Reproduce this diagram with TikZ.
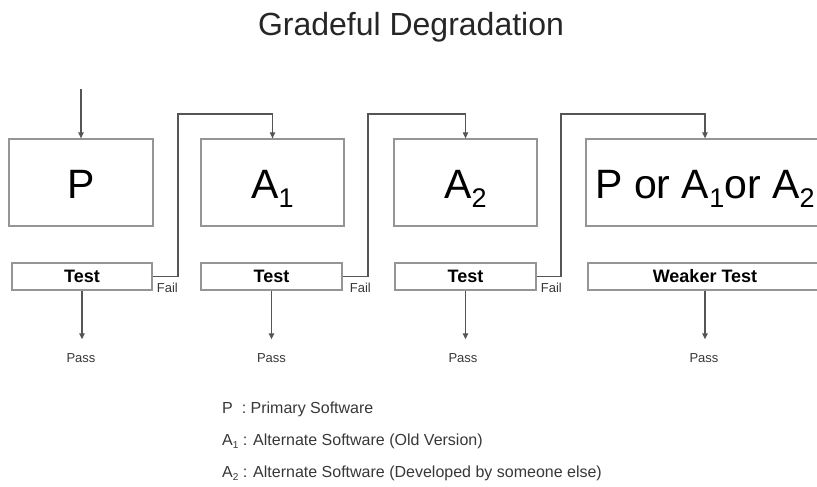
\documentclass[tikz,border=0pt]{standalone}
\usepackage{fontspec}
\setmainfont{Liberation Sans}
\usetikzlibrary{arrows.meta}
\definecolor{boxgray}{HTML}{959595}
\definecolor{linegray}{HTML}{555555}
\definecolor{txtgray}{HTML}{383838}
\newcommand\bigsub[1]{\raisebox{-9pt}{\fontsize{27}{27}\selectfont #1}}
\newcommand\tinysub[1]{\raisebox{-3pt}{\fontsize{10}{10}\selectfont #1}}
\begin{document}
\begin{tikzpicture}[x=1pt,y=-1pt,
  mainbox/.style={draw=boxgray,line width=1.3pt,minimum height=87pt,inner sep=0pt,
    text height=31pt,text depth=0pt,font=\fontsize{41}{41}\selectfont},
  testbox/.style={draw=boxgray,line width=1.3pt,minimum height=27pt,inner sep=0pt,
    text height=12pt,text depth=0pt,font=\bfseries\fontsize{18}{18}\selectfont},
  conn/.style={draw=linegray,line width=1.2pt,-{Triangle[length=6pt,width=5.5pt]}},
  small/.style={font=\fontsize{13}{13}\selectfont,text=txtgray,inner sep=0pt},
  legend/.style={font=\fontsize{16}{16}\selectfont,text=txtgray,anchor=base west,inner sep=0pt}]
\clip (0,0) rectangle (817,487);
\fill[white] (0,0) rectangle (817,487);
% title
\node[font=\fontsize{32}{32}\selectfont,text=black!85,anchor=base,inner sep=0pt] (title) at (411,36) {Gradeful Degradation};
% main boxes
\node[mainbox,minimum width=144pt] (P)  at (81,182.5)   {P};
\node[mainbox,minimum width=143pt] (A1) at (272.5,182.5) {A\bigsub{1}};
\node[mainbox,minimum width=143pt] (A2) at (465.5,182.5) {A\bigsub{2}};
\node[mainbox,minimum width=238pt] (PA) at (705,182.5)  {P or A\bigsub{1}or A\bigsub{2}};
% test boxes
\node[testbox,minimum width=140pt] (tP)  at (82,276.5)    {Test};
\node[testbox,minimum width=141pt] (tA1) at (271.5,276.5) {Test};
\node[testbox,minimum width=141pt] (tA2) at (465.5,276.5) {Test};
\node[testbox,minimum width=234pt] (tPA) at (705,276.5)   {Weaker Test};
% entry arrow
\coordinate (in) at (81,89);
\draw[conn] (in) -- (P.north);
% fail connectors
\coordinate (f1) at (178,114);
\coordinate (f2) at (368,114);
\coordinate (f3) at (561,114);
\draw[conn] (tP.east)  -| (f1) -| (A1.north);
\draw[conn] (tA1.east) -| (f2) -| (A2.north);
\draw[conn] (tA2.east) -| (f3) -| (PA.north);
% fail labels
\node[small,anchor=base west] (fail1) at ([xshift=4pt,yshift=-2pt]tP.south east)  {Fail};
\node[small,anchor=base west] (fail2) at ([xshift=7pt,yshift=-2pt]tA1.south east) {Fail};
\node[small,anchor=base west] (fail3) at ([xshift=4pt,yshift=-2pt]tA2.south east) {Fail};
% pass labels and arrows
\node[small] (pass1) at (81,358)    {Pass};
\node[small] (pass2) at (271.5,358) {Pass};
\node[small] (pass3) at (463,358)   {Pass};
\node[small] (pass4) at (704,358)   {Pass};
\draw[conn] (tP.south)  -- ([yshift=14pt]pass1.north -| tP.south);
\draw[conn] (tA1.south) -- ([yshift=14pt]pass2.north -| tA1.south);
\draw[conn] (tA2.south) -- ([yshift=14pt]pass3.north -| tA2.south);
\draw[conn] (tPA.south) -- ([yshift=14pt]pass4.north -| tPA.south);
% legend
\node[legend] (lgP)  at (222,413) {P\ \ : Primary Software};
\node[legend] (lgA1) at (222,445) {A\tinysub{1} : Alternate Software (Old Version)};
\node[legend] (lgA2) at (222,477) {A\tinysub{2} : Alternate Software (Developed by someone else)};
\end{tikzpicture}
\end{document}
